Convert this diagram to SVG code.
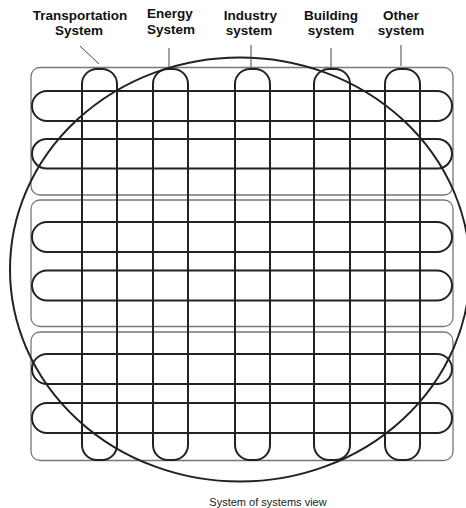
<svg xmlns="http://www.w3.org/2000/svg" width="466" height="508" viewBox="0 0 466 508">
<style>
.box{fill:none;stroke:#777;stroke-width:1.3}
.h{fill:none;stroke:#222;stroke-width:2}
.v{fill:none;stroke:#222;stroke-width:2}
.lead{fill:none;stroke:#444;stroke-width:1}
.lbl{font-family:"Liberation Sans",Arial,sans-serif;font-weight:bold;font-size:13.5px;fill:#111;text-anchor:middle}
.cap{font-family:"Liberation Sans",Arial,sans-serif;font-size:11px;fill:#222;text-anchor:middle}
</style>
<rect width="466" height="508" fill="#fff"/>
<g id="groups">
<rect class="box" x="31" y="67.5" width="422" height="127.5" rx="9"/>
<rect class="box" x="31" y="200" width="422" height="126.5" rx="9"/>
<rect class="box" x="31" y="332" width="422" height="128.5" rx="9"/>
</g>
<g id="rows">
<rect class="h" x="32" y="91" width="420" height="30" rx="15"/>
<rect class="h" x="32" y="139" width="420" height="29.5" rx="14.75"/>
<rect class="h" x="32" y="222" width="420" height="30" rx="15"/>
<rect class="h" x="32" y="270.5" width="420" height="30" rx="15"/>
<rect class="h" x="32" y="354" width="420" height="30" rx="15"/>
<rect class="h" x="32" y="403" width="420" height="30" rx="15"/>
</g>
<g id="transportation">
<rect class="v" x="82" y="69" width="35" height="391" rx="15"/>
<text class="lbl" x="80" y="20">Transportation</text>
<text class="lbl" x="79" y="35">System</text>
</g>
<g id="energy">
<rect class="v" x="153" y="69" width="35" height="391" rx="15"/>
<text class="lbl" x="170" y="18">Energy</text>
<text class="lbl" x="171" y="34">System</text>
</g>
<g id="industry">
<rect class="v" x="235" y="69" width="35" height="391" rx="15"/>
<text class="lbl" x="250.5" y="20">Industry</text>
<text class="lbl" x="249" y="35">system</text>
</g>
<g id="building">
<rect class="v" x="314" y="69" width="36" height="391" rx="15"/>
<text class="lbl" x="331" y="20">Building</text>
<text class="lbl" x="331" y="35">system</text>
</g>
<g id="other">
<rect class="v" x="385" y="69" width="35" height="391" rx="15"/>
<text class="lbl" x="401" y="20">Other</text>
<text class="lbl" x="401" y="35">system</text>
</g>
<g id="sos">
<ellipse cx="240" cy="269.5" rx="230" ry="212" fill="none" stroke="#222" stroke-width="2"/>
<text class="cap" x="268" y="506">System of systems view</text>
</g>
<g id="connectors">
<line class="lead" x1="80" y1="46" x2="99" y2="64"/>
<line class="lead" x1="169" y1="48" x2="169" y2="67"/>
<line class="lead" x1="251" y1="45" x2="251" y2="67"/>
<line class="lead" x1="331" y1="48" x2="331" y2="67"/>
<line class="lead" x1="401" y1="45" x2="401" y2="66"/>
</g>
</svg>
